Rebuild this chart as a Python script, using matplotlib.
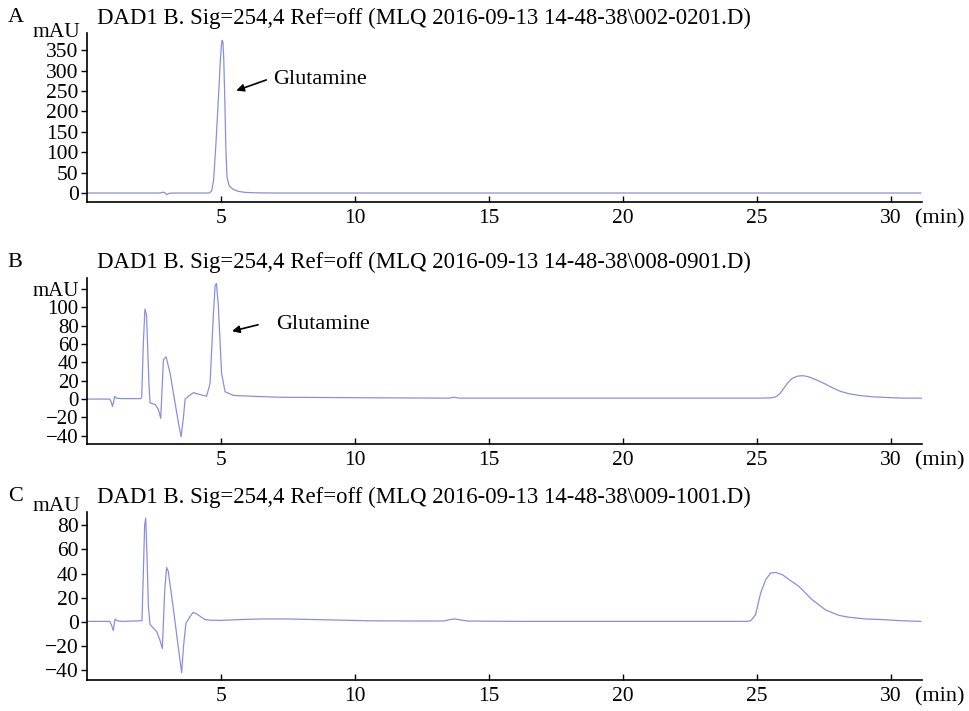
import matplotlib
matplotlib.use('Agg')
import matplotlib.pyplot as plt

plt.rcParams['font.family'] = ['Liberation Serif', 'DejaVu Serif']

# ---------------------------------------------------------------------------
# Dados lidos do cromatograma (tempo em min, absorbância em mAU)
# ---------------------------------------------------------------------------
titles = [
    r'DAD1 B. Sig=254,4 Ref=off (MLQ 2016-09-13 14-48-38\002-0201.D)',
    r'DAD1 B. Sig=254,4 Ref=off (MLQ 2016-09-13 14-48-38\008-0901.D)',
    r'DAD1 B. Sig=254,4 Ref=off (MLQ 2016-09-13 14-48-38\009-1001.D)',
]
panel_letters = ['A', 'B', 'C']

t_a = [0.0, 2.7, 2.85, 2.92, 2.97, 3.05, 3.2, 4.55, 4.65, 4.72, 4.8, 4.9,
       4.97, 5.01, 5.04, 5.07, 5.1, 5.14, 5.18, 5.22, 5.3, 5.45, 5.65, 5.9,
       6.3, 7.0, 31.1]
y_a = [0, 0, 2, 0, -4, -1, 0, 0, 5, 30, 110, 230,
       320, 360, 374, 370, 330, 230, 110, 40, 18, 9, 4, 1.5,
       0.5, 0, 0]

t_b = [0.0, 0.85, 0.9, 0.95, 1.0, 1.03, 1.1, 1.3, 2.0, 2.04, 2.1, 2.16, 2.22,
       2.31, 2.35, 2.54, 2.66, 2.75, 2.85, 2.95, 3.1, 3.26, 3.41, 3.51, 3.6,
       3.66, 3.78, 3.97, 4.15, 4.46, 4.59, 4.71, 4.78, 4.83, 4.9, 5.02, 5.15,
       5.46, 6.2, 7.2, 10.0, 13.5, 13.7, 13.9, 15.0, 25.0, 25.5, 25.7, 25.85,
       26.0, 26.15, 26.3, 26.5, 26.7, 26.9, 27.2, 27.5, 27.8, 28.1, 28.4,
       28.8, 29.3, 30.0, 30.5, 31.2]
y_b = [0, 0, -3, -8, -2, 3, 1, 0.5, 0.5, 2, 60, 98, 92,
       17, -4, -6, -11, -21, 43, 46, 28, 0, -26, -41, -19,
       0, 3, 7, 5.5, 3, 17, 90, 124, 126, 101, 28, 8,
       4, 3, 2, 1.5, 1, 2, 1, 1, 1, 1.2, 2.5, 6,
       12, 18, 22.5, 25, 25.5, 24.5, 21, 17, 12.5, 8.5, 6,
       4, 2.5, 1.5, 1, 1]

t_c = [0.0, 0.85, 0.92, 0.98, 1.02, 1.05, 1.12, 1.3, 2.05, 2.1, 2.15, 2.19,
       2.23, 2.29, 2.35, 2.6, 2.72, 2.81, 2.9, 2.97, 3.03, 3.21, 3.4, 3.53,
       3.6, 3.69, 3.8, 3.96, 4.1, 4.4, 4.6, 5.0, 5.7, 6.5, 7.5, 8.5, 9.5,
       10.5, 12.0, 13.3, 13.5, 13.7, 13.9, 14.2, 16.0, 24.6, 24.76, 24.94,
       25.13, 25.32, 25.5, 25.7, 25.95, 26.26, 26.56, 27.05, 27.55, 28.05,
       28.4, 29.04, 29.66, 30.4, 31.1]
y_c = [0.5, 0.5, -3, -7, -1, 2.5, 1, 0.5, 1, 40, 80, 86,
       60, 13, -2, -8, -15, -22, 27, 45, 42, 13, -20, -42,
       -20, -1, 3, 8, 6.5, 2, 1.5, 1.3, 2, 2.5, 2.5, 2, 1.5,
       1, 0.8, 0.8, 1.8, 2.5, 1.8, 0.8, 0.5, 0.5, 1, 6,
       24, 35, 40.5, 41, 39, 34, 29.4, 18.4, 10, 5.5,
       4, 2.5, 2, 1, 0.5]

series = [(t_a, y_a), (t_b, y_b), (t_c, y_c)]
ylims = [(-22, 392), (-49, 132), (-48, 91)]
yticks = [list(range(0, 351, 50)), list(range(-40, 121, 20)), list(range(-40, 81, 20))]
xticks = [5, 10, 15, 20, 25, 30]

# anotações "Glutamine": (cabeça da seta, cauda, posição do texto)
glut = {0: ((5.57, 251), (6.69, 277), (6.93, 277)),
        1: ((5.41, 74), (6.38, 81), (7.04, 81))}

# ---------------------------------------------------------------------------
# Figura
# ---------------------------------------------------------------------------
fig = plt.figure(figsize=(9.69, 7.11), dpi=100, facecolor='white')

axes_pos = [[0.0898, 0.7159, 0.8617, 0.2377],
            [0.0898, 0.3755, 0.8617, 0.2335],
            [0.0898, 0.0436, 0.8617, 0.2363]]
title_y = [0.9747, 0.6315, 0.3010]
ytick_fs = [15.5, 15, 15.5]
mau_y = [1.0, None, 1.03]

line_color = '#8a8fdc'
xtick_fs = 15.5

for i, (t, y) in enumerate(series):
    ax = fig.add_axes(axes_pos[i])
    ax.plot(t, y, color=line_color, lw=0.9)
    ax.set_xlim(0, 31.15)
    ax.set_ylim(*ylims[i])

    for s in ['top', 'right']:
        ax.spines[s].set_visible(False)
    for s in ['left', 'bottom']:
        ax.spines[s].set_linewidth(1.2)

    ax.set_xticks(xticks)
    ax.set_xticklabels([str(v) for v in xticks], fontsize=xtick_fs)
    ax.tick_params(axis='x', direction='in', length=4, width=1, pad=5)

    yt = yticks[i]
    ax.set_yticks(yt)
    labels = [f'{v}'.replace('-', '\u2212') for v in yt]
    if i == 1:
        labels[-1] = 'mAU'
    ax.set_yticklabels(labels, fontsize=ytick_fs[i])
    ax.tick_params(axis='y', direction='out', length=4, width=1, pad=2)

    # unidade do eixo y
    if mau_y[i] is not None:
        ax.text(-0.0084, mau_y[i], 'mAU', transform=ax.transAxes,
                ha='right', va='center', fontsize=ytick_fs[i])

    # "(min)" ao lado do último rótulo
    ax.annotate('(min)', xy=(30.9, 0), xycoords=ax.get_xaxis_transform(),
                xytext=(0, -5.5), textcoords='offset points',
                ha='left', va='top', fontsize=xtick_fs + 0.5)

    if i in glut:
        head, tail, txt = glut[i]
        ax.annotate('', xy=head, xytext=tail,
                    arrowprops=dict(arrowstyle='-|>', color='black', lw=1.2,
                                    mutation_scale=11, shrinkA=0, shrinkB=0))
        ax.text(txt[0], txt[1], 'Glutamine', ha='left', va='center', fontsize=16)

    fig.text(0.008, title_y[i], panel_letters[i], ha='left', va='center', fontsize=16)
    fig.text(0.100, title_y[i], titles[i], ha='left', va='center', fontsize=16.4)

plt.savefig('out.png', dpi=100, facecolor='white')
plt.close()
